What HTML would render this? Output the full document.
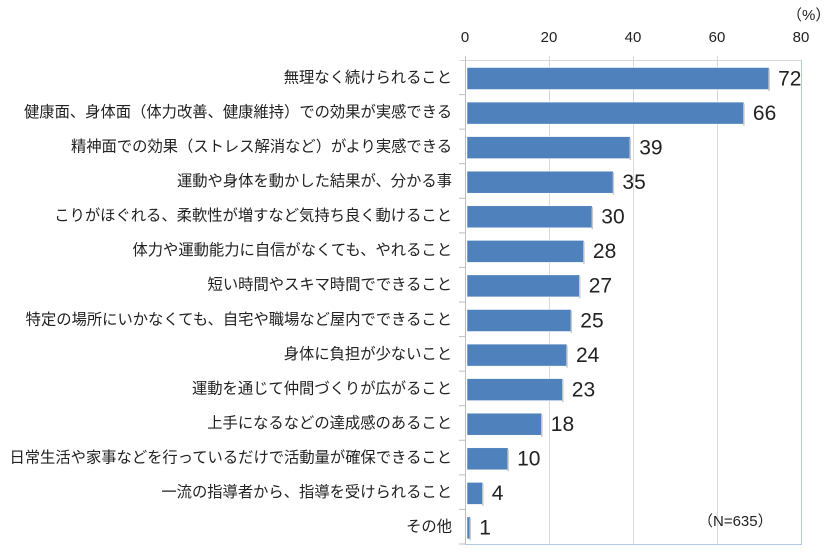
<!DOCTYPE html>
<html><head><meta charset="utf-8"><style>
body{margin:0;background:#fff;}
svg text{font-family:"Liberation Sans","Noto Sans CJK JP",sans-serif;}
</style></head><body>
<svg width="832" height="555" xmlns="http://www.w3.org/2000/svg">
<g stroke="#d9d9d9" stroke-width="1">
<line x1="549.5" y1="56" x2="549.5" y2="544"/>
<line x1="633.5" y1="56" x2="633.5" y2="544"/>
<line x1="717.5" y1="56" x2="717.5" y2="544"/>
<line x1="459" y1="60.5" x2="801" y2="60.5"/>
</g>
<line x1="801.5" y1="60" x2="801.5" y2="544.5" stroke="#b4c7e7"/>
<line x1="465" y1="544.5" x2="802" y2="544.5" stroke="#b4c7e7"/>
<line x1="465.5" y1="56" x2="465.5" y2="545" stroke="#bfbfbf"/>
<g font-size="15" fill="#222" text-anchor="middle">
<text x="465" y="42">0</text><text x="549" y="42">20</text><text x="633" y="42">40</text><text x="717" y="42">60</text><text x="801" y="42">80</text>
</g>
<text x="787" y="20" font-size="15" fill="#222">（%）</text>
<g id="rows"></g>
<text x="698" y="526" font-size="15" fill="#222">（N=635）</text>
</svg>
<script>
var d=[["無理なく続けられること",72],["健康面、身体面（体力改善、健康維持）での効果が実感できる",66],["精神面での効果（ストレス解消など）がより実感できる",39],["運動や身体を動かした結果が、分かる事",35],["こりがほぐれる、柔軟性が増すなど気持ち良く動けること",30],["体力や運動能力に自信がなくても、やれること",28],["短い時間やスキマ時間でできること",27],["特定の場所にいかなくても、自宅や職場など屋内でできること",25],["身体に負担が少ないこと",24],["運動を通じて仲間づくりが広がること",23],["上手になるなどの達成感のあること",18],["日常生活や家事などを行っているだけで活動量が確保できること",10],["一流の指導者から、指導を受けられること",4],["その他",1]];
var g=document.getElementById('rows'),s='',h=484/14;
d.forEach(function(r,i){var t=60+i*h,w=r[1]*4.21,c=t+h/2;
s+='<line x1="459" x2="465" y1="'+(t+h).toFixed(1)+'" y2="'+(t+h).toFixed(1)+'" stroke="#bfbfbf"/>';
s+='<rect x="467" y="'+(t+7.5).toFixed(1)+'" width="'+(w-1).toFixed(1)+'" height="22" fill="#4f81bd" stroke="#fff" stroke-width="0.5"/>';
s+='<line x1="'+(466+w).toFixed(1)+'" x2="'+(466+w).toFixed(1)+'" y1="'+(t+9).toFixed(1)+'" y2="'+(t+31).toFixed(1)+'" stroke="#c8c8c8" stroke-width="1.5"/>';
s+='<text x="'+(475+w).toFixed(1)+'" y="'+(c+8).toFixed(1)+'" font-size="21" fill="#222">'+r[1]+'</text>';
s+='<text x="452" y="'+(c+5).toFixed(1)+'" font-size="15.3" fill="#222" text-anchor="end">'+r[0]+'</text>';});
g.innerHTML=s;
</script>
</body></html>
